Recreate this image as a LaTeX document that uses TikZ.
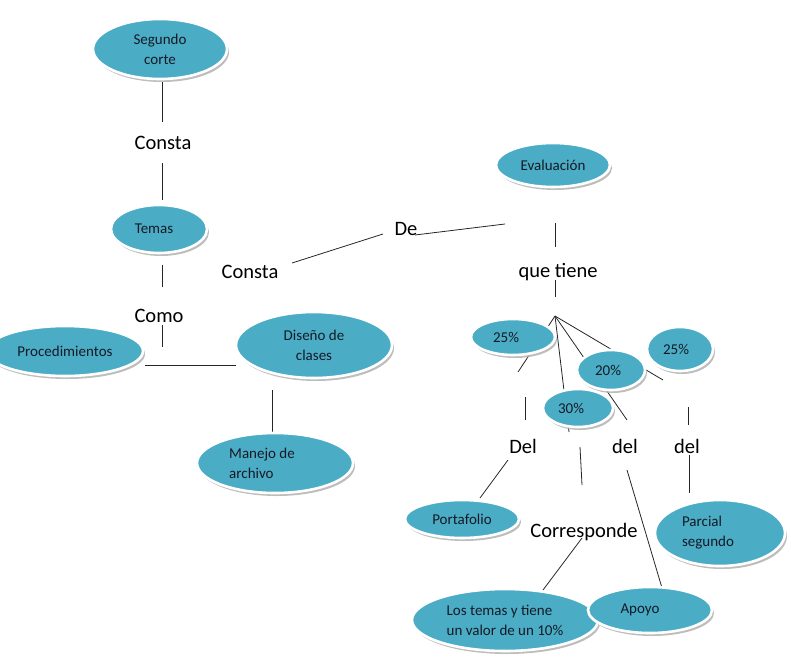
\documentclass[tikz,border=0pt]{standalone}
\usepackage{fontspec}
\setmainfont{Carlito}
\usetikzlibrary{shapes.geometric,shadows,backgrounds}
\definecolor{bub}{HTML}{4BACC6}
\definecolor{txt}{HTML}{141A24}
\begin{document}
\begin{tikzpicture}[x=1pt,y=-1pt,
 bubble/.style={ellipse, fill=bub, draw=white, line width=2.6pt, inner sep=0pt, align=center,
   font=\fontsize{15}{20}\selectfont, text=txt,
   drop shadow={shadow xshift=2pt, shadow yshift=-3pt, fill=gray!60, opacity=0.85}},
 word/.style={font=\fontsize{20.5}{24}\selectfont, inner sep=1pt, text=black},
 link/.style={line width=0.8pt, draw=black!85}]
\useasboundingbox (0,0) rectangle (791,669);

% bubbles
\node[bubble, minimum width=134pt, minimum height=60pt] (seg) at (160,49) {Segundo\\corte};
\node[bubble, minimum width=96pt, minimum height=48pt] (temas) at (159,229) {Temas\hspace*{10pt}};
\node[bubble, minimum width=156pt, minimum height=50pt] (proc) at (65,351) {Procedimientos};
\node[bubble, minimum width=156pt, minimum height=66pt] (dis) at (314,345) {Diseño de\\clases};
\node[bubble, minimum width=156pt, minimum height=60pt, align=left] (man) at (275,463) {Manejo de\hspace*{26pt}\\archivo};
\node[bubble, minimum width=114pt, minimum height=44pt] (eval) at (553,165) {Evaluación};
\node[bubble, minimum width=84pt, minimum height=36pt] (pa) at (513,337) {25\%\hspace*{14pt}};
\node[bubble, minimum width=66pt, minimum height=44pt] (pb) at (680,349) {25\%\hspace*{8pt}};
\node[bubble, minimum width=68pt, minimum height=40pt] (pc) at (611,370) {20\%\hspace*{6pt}};
\node[bubble, minimum width=70pt, minimum height=38pt] (pd) at (578,408) {30\%\hspace*{14pt}};
\node[bubble, minimum width=114pt, minimum height=38pt] (port) at (462,519) {Portafolio};
\node[bubble, minimum width=130pt, minimum height=66pt, align=left] (parc) at (720,533) {Parcial\\segundo\hspace*{24pt}};
\node[bubble, minimum width=186pt, minimum height=62pt, align=left] (lost) at (505,620) {Los temas y tiene\\un valor de un 10\%};
\node[bubble, minimum width=124pt, minimum height=46pt] (apoyo) at (650,610) {Apoyo\hspace*{20pt}};

% linking words
\node[word] (w1) at (163,143) {Consta};
\node[word] (w2) at (159,316) {Como};
\node[word] (w3) at (250,272) {Consta};
\node[word] (w4) at (406,229) {De};
\node[word] (w5) at (558,272) {que tiene};
\node[word] (w6) at (523,446) {Del};
\node[word] (w7) at (625,446) {del};
\node[word] (w8) at (687,446) {del};
\node[word] (w9) at (584,532) {Corresponde};

% connector end points
\coordinate (a1) at (162,82);  \coordinate (b1) at (162,122);
\coordinate (a2) at (162,163); \coordinate (b2) at (162,200);
\coordinate (a3) at (162,265); \coordinate (b3) at (162,287);
\coordinate (a4) at (162,325); \coordinate (b4) at (162,347);
\coordinate (a5) at (145,365); \coordinate (b5) at (236,365);
\coordinate (a6) at (272,390); \coordinate (b6) at (272,433);
\coordinate (a7) at (292,263); \coordinate (b7) at (383,234);
\coordinate (a8) at (415,235); \coordinate (b8) at (505,224);
\coordinate (a9) at (555,223); \coordinate (b9) at (555,247);
\coordinate (a10) at (555,280); \coordinate (b10) at (555,297);
\coordinate (fan) at (555,316);
\coordinate (f1) at (518,372);
\coordinate (f2) at (569,432);
\coordinate (f3) at (627,420);
\coordinate (f4) at (663,380);
\coordinate (a11) at (525,397); \coordinate (b11) at (525,420);
\coordinate (a12) at (580,447); \coordinate (b12) at (582,485);
\coordinate (a13) at (627,470); \coordinate (b13) at (662,588);
\coordinate (a14) at (688,407); \coordinate (b14) at (688,425);
\coordinate (a15) at (689,455); \coordinate (b15) at (689,493);
\coordinate (a16) at (508,460); \coordinate (b16) at (480,498);
\coordinate (a17) at (582,538); \coordinate (b17) at (543,590);

\begin{scope}[on background layer]
\foreach \i in {1,...,17} {\draw[link] (a\i) -- (b\i);}
\foreach \j in {1,...,4} {\draw[link] (fan) -- (f\j);}
\end{scope}
\end{tikzpicture}
\end{document}
